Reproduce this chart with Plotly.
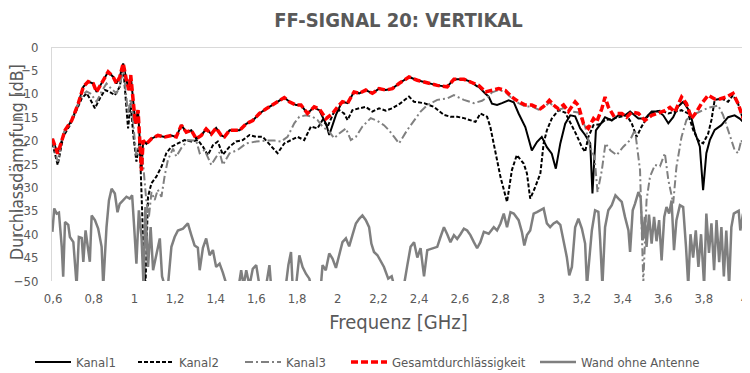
import plotly.graph_objects as go

# ---------------- data ----------------
tick_vals = [0.6, 0.8, 1.0, 1.2, 1.4, 1.6, 1.8, 2.0, 2.2, 2.4, 2.6, 2.8, 3.0, 3.2, 3.4, 3.6, 3.8, 4.0]
tick_text = ["0,6", "0,8", "1", "1,2", "1,4", "1,6", "1,8", "2", "2,2", "2,4", "2,6", "2,8", "3", "3,2", "3,4", "3,6", "3,8", "4"]
y_tick_vals = [0, -5, -10, -15, -20, -25, -30, -35, -40, -45, -50]

gesamt_f = [0.597, 0.623, 0.659, 0.692, 0.724, 0.749, 0.773, 0.798, 0.814, 0.839, 0.871, 0.896, 0.912, 0.928,
            0.945, 0.961, 0.973, 0.982, 0.994, 1.005, 1.018, 1.026, 1.035, 1.043, 1.059, 1.084, 1.116, 1.149,
            1.182, 1.206, 1.231, 1.255, 1.28, 1.304, 1.329, 1.353, 1.378, 1.402, 1.427, 1.443, 1.468, 1.517,
            1.55, 1.582, 1.615, 1.648, 1.68, 1.713, 1.737, 1.762, 1.795, 1.819, 1.851, 1.884, 1.909, 1.942,
            1.974, 1.999, 2.023, 2.048, 2.08, 2.105, 2.138, 2.17, 2.203, 2.236, 2.268, 2.301, 2.35, 2.391,
            2.44, 2.489, 2.538, 2.571, 2.62, 2.652, 2.693, 2.726, 2.758, 2.791, 2.824, 2.856, 2.889, 2.922,
            2.954, 2.996, 3.02, 3.04, 3.061, 3.085, 3.11, 3.134, 3.167, 3.183, 3.208, 3.232, 3.257, 3.273,
            3.298, 3.314, 3.33, 3.355, 3.371, 3.396, 3.42, 3.445, 3.478, 3.51, 3.543, 3.576, 3.608, 3.633,
            3.657, 3.69, 3.714, 3.739, 3.763, 3.788, 3.821, 3.853, 3.878, 3.91, 3.943, 3.968, 3.992, 4.0]
gesamt_db = [-19.6, -22.8, -17.8, -15.7, -12.1, -8.5, -7.4, -7.8, -9.6, -7.8, -5.3, -6.4, -7.8, -6.4,
             -3.5, -7.1, -9.2, -6.0, -10.7, -16.4, -13.5, -19.2, -26.4, -20.0, -20.7, -19.6, -18.9, -19.2,
             -18.9, -19.2, -16.7, -18.2, -17.8, -19.6, -18.9, -17.5, -18.6, -17.3, -18.9, -19.2, -17.8, -17.8,
             -16.4, -15.7, -14.2, -13.2, -12.4, -11.4, -10.8, -11.7, -12.4, -12.4, -14.2, -12.8, -13.2, -15.3,
             -14.2, -12.8, -11.7, -12.0, -9.6, -9.9, -9.2, -9.9, -8.9, -9.2, -8.9, -7.8, -6.4, -7.1,
             -7.6, -8.2, -8.5, -6.9, -6.9, -7.4, -8.2, -9.6, -9.3, -8.9, -9.3, -10.7, -11.7, -12.4,
             -12.4, -13.2, -12.4, -11.4, -12.4, -13.2, -12.4, -13.8, -11.7, -12.5, -16.4, -17.4, -15.3, -16.0,
             -13.2, -10.7, -12.8, -14.6, -14.2, -14.2, -15.0, -13.9, -14.2, -15.7, -14.6, -14.0, -13.6, -12.9,
             -13.9, -10.7, -12.1, -15.3, -13.9, -12.1, -10.3, -11.1, -11.1, -10.7, -9.9, -12.1, -15.3, -16.1]

kanal1_f = [0.597, 0.623, 0.659, 0.692, 0.724, 0.749, 0.773, 0.798, 0.814, 0.839, 0.871, 0.896, 0.912, 0.928,
            0.945, 0.961, 0.973, 0.982, 0.994, 1.005, 1.018, 1.026, 1.035, 1.043, 1.059, 1.084, 1.116, 1.149,
            1.182, 1.206, 1.231, 1.255, 1.28, 1.304, 1.329, 1.353, 1.378, 1.402, 1.427, 1.443, 1.468, 1.517,
            1.55, 1.582, 1.615, 1.648, 1.68, 1.713, 1.737, 1.762, 1.795, 1.819, 1.851, 1.884, 1.893, 1.909,
            1.925, 1.943, 1.958, 1.974, 1.991, 2.012, 2.023, 2.048, 2.08, 2.105, 2.138, 2.17, 2.203, 2.236,
            2.268, 2.301, 2.35, 2.391, 2.44, 2.489, 2.538, 2.571, 2.62, 2.652, 2.685, 2.693, 2.726, 2.742,
            2.758, 2.783, 2.807, 2.84, 2.865, 2.889, 2.922, 2.954, 2.979, 3.003, 3.028, 3.052, 3.072, 3.094,
            3.118, 3.143, 3.167, 3.192, 3.216, 3.241, 3.252, 3.269, 3.298, 3.314, 3.347, 3.38, 3.412, 3.437,
            3.478, 3.51, 3.543, 3.576, 3.6, 3.625, 3.649, 3.674, 3.698, 3.731, 3.755, 3.78, 3.796, 3.812,
            3.829, 3.853, 3.886, 3.919, 3.951, 3.976, 4.0]
kanal1_db = [-19.6, -22.8, -17.8, -15.7, -12.1, -8.5, -7.4, -7.8, -9.6, -7.8, -5.3, -6.4, -7.8, -6.4,
             -3.5, -7.1, -9.2, -6.0, -10.7, -16.4, -13.5, -19.2, -26.4, -20.0, -20.7, -19.6, -18.9, -19.2,
             -18.9, -19.2, -16.7, -18.2, -17.8, -19.6, -18.9, -17.5, -18.6, -17.3, -18.9, -19.2, -17.8, -17.8,
             -16.4, -15.7, -14.2, -13.2, -12.4, -11.4, -10.8, -11.7, -12.4, -12.4, -14.2, -12.8, -13.2, -13.5,
             -14.9, -16.5, -18.8, -16.8, -14.5, -12.5, -11.7, -12.0, -9.6, -9.9, -9.2, -9.9, -8.9, -9.2,
             -8.9, -7.8, -6.4, -7.1, -7.6, -8.2, -8.5, -6.9, -6.9, -7.4, -8.4, -8.5, -10.0, -10.6,
             -12.1, -12.4, -12.0, -11.4, -11.8, -14.2, -17.1, -22.1, -20.3, -19.2, -21.4, -22.8, -26.0, -20.6,
             -16.4, -14.6, -14.8, -17.4, -18.8, -20.6, -31.3, -17.8, -16.1, -15.0, -15.7, -14.6, -14.6, -13.8,
             -15.3, -15.3, -13.8, -13.8, -14.6, -16.3, -15.0, -12.7, -11.7, -13.8, -18.1, -21.3, -30.6, -22.7,
             -19.9, -17.7, -16.7, -15.0, -14.6, -15.3, -16.3]

kanal2_f = [0.597, 0.623, 0.65, 0.683, 0.716, 0.741, 0.765, 0.781, 0.806, 0.83, 0.855, 0.879, 0.904, 0.928,
            0.945, 0.961, 0.969, 0.982, 0.994, 1.01, 1.026, 1.043, 1.054, 1.067, 1.084, 1.108, 1.133, 1.157,
            1.182, 1.214, 1.247, 1.28, 1.312, 1.337, 1.361, 1.386, 1.41, 1.435, 1.468, 1.5, 1.533, 1.566,
            1.599, 1.631, 1.672, 1.704, 1.737, 1.77, 1.802, 1.835, 1.868, 1.9, 1.925, 1.95, 1.982, 2.007,
            2.031, 2.048, 2.072, 2.105, 2.138, 2.17, 2.203, 2.236, 2.268, 2.309, 2.35, 2.375, 2.424, 2.473,
            2.522, 2.554, 2.587, 2.62, 2.652, 2.677, 2.701, 2.734, 2.75, 2.775, 2.8, 2.832, 2.856, 2.88,
            2.914, 2.93, 2.946, 2.971, 2.996, 3.012, 3.028, 3.052, 3.085, 3.118, 3.15, 3.175, 3.2, 3.216,
            3.232, 3.257, 3.29, 3.314, 3.347, 3.38, 3.42, 3.445, 3.469, 3.494, 3.527, 3.559, 3.592, 3.625,
            3.657, 3.69, 3.722, 3.747, 3.771, 3.796, 3.821, 3.837, 3.853, 3.886, 3.919, 3.943, 3.968, 3.992, 4.0]
kanal2_db = [-20.6, -25.2, -19.2, -16.7, -13.5, -11.0, -9.9, -11.0, -13.1, -11.0, -9.2, -9.6, -10.3, -8.5,
             -4.2, -12.8, -17.4, -12.0, -18.5, -24.5, -19.9, -41.2, -52.0, -32.0, -29.1, -27.7, -25.6, -22.7,
             -21.3, -20.6, -19.9, -20.2, -19.9, -21.3, -23.1, -21.0, -20.2, -23.0, -21.3, -20.2, -19.9, -18.8,
             -19.2, -19.2, -21.3, -22.7, -20.6, -19.9, -19.2, -19.9, -17.0, -17.4, -15.6, -17.0, -13.8, -13.5,
             -14.2, -15.6, -13.5, -13.1, -12.8, -13.8, -13.1, -13.6, -13.1, -12.0, -10.6, -11.7, -12.0, -12.8,
             -14.5, -14.9, -14.9, -15.2, -15.6, -16.0, -14.2, -14.9, -17.1, -22.1, -27.8, -33.1, -26.3, -23.1,
             -24.9, -27.0, -32.4, -29.9, -27.0, -20.6, -17.8, -15.3, -13.5, -14.0, -16.7, -18.9, -21.4, -22.4,
             -19.2, -16.7, -16.5, -15.6, -15.4, -15.1, -14.6, -16.3, -19.2, -17.0, -14.6, -13.8, -13.6, -14.2,
             -13.8, -13.5, -14.2, -17.7, -19.9, -20.6, -18.5, -15.6, -11.3, -11.0, -11.7, -10.3, -12.1, -15.5, -16.5]

kanal3_f = [0.597, 0.623, 0.65, 0.683, 0.716, 0.741, 0.765, 0.786, 0.814, 0.839, 0.863, 0.888, 0.912, 0.928,
            0.945, 0.961, 0.969, 0.982, 0.994, 1.01, 1.026, 1.043, 1.059, 1.071, 1.084, 1.1, 1.115, 1.133,
            1.149, 1.165, 1.19, 1.206, 1.232, 1.263, 1.304, 1.321, 1.345, 1.378, 1.402, 1.419, 1.435, 1.468,
            1.508, 1.55, 1.599, 1.648, 1.688, 1.721, 1.753, 1.786, 1.811, 1.844, 1.876, 1.9, 1.925, 1.958,
            1.982, 2.007, 2.04, 2.064, 2.089, 2.121, 2.162, 2.195, 2.227, 2.252, 2.277, 2.301, 2.342, 2.375,
            2.407, 2.44, 2.489, 2.538, 2.571, 2.62, 2.669, 2.709, 2.742, 2.758, 2.791, 2.824, 2.856, 2.889,
            2.922, 2.954, 2.987, 3.02, 3.04, 3.061, 3.085, 3.118, 3.15, 3.183, 3.216, 3.241, 3.262, 3.277,
            3.298, 3.316, 3.341, 3.371, 3.404, 3.437, 3.461, 3.486, 3.502, 3.518, 3.535, 3.559, 3.584, 3.608,
            3.625, 3.649, 3.665, 3.69, 3.714, 3.739, 3.771, 3.821, 3.87, 3.894, 3.919, 3.951, 3.968, 3.984, 4.0]
kanal3_db = [-20.0, -24.5, -18.5, -16.5, -13.0, -10.5, -9.5, -10.0, -11.7, -9.5, -7.8, -9.0, -9.9, -8.5,
             -4.2, -10.5, -14.2, -11.0, -16.0, -23.4, -21.0, -25.0, -33.0, -36.5, -31.0, -32.7, -30.5, -32.0,
             -27.5, -24.1, -21.7, -23.4, -21.5, -19.9, -20.0, -22.7, -22.0, -25.2, -23.5, -22.5, -25.2, -22.7,
             -22.0, -20.6, -20.2, -20.0, -20.0, -20.2, -19.2, -16.3, -14.9, -14.6, -14.9, -15.6, -17.0, -18.1,
             -19.5, -18.5, -17.4, -19.9, -19.2, -17.0, -15.2, -15.8, -16.7, -17.8, -19.2, -20.6, -17.7, -15.6,
             -13.8, -12.4, -11.3, -11.0, -10.3, -11.3, -12.0, -11.5, -10.5, -9.7, -9.2, -9.6, -11.0, -12.0,
             -12.7, -12.7, -13.4, -12.7, -11.8, -12.7, -13.4, -13.0, -13.8, -14.0, -17.0, -21.4, -23.5, -31.0,
             -26.4, -20.6, -22.1, -23.1, -21.3, -19.9, -17.7, -26.3, -50.5, -32.7, -27.7, -25.2, -25.5, -22.7,
             -28.4, -33.4, -25.6, -19.2, -15.6, -14.5, -14.0, -13.0, -12.5, -14.5, -17.7, -22.0, -22.7, -19.9, -22.0]

wand_f = [0.597, 0.606, 0.618, 0.629, 0.643, 0.65, 0.659, 0.675, 0.683, 0.7, 0.716, 0.727, 0.741, 0.749,
          0.76, 0.773, 0.781, 0.79, 0.806, 0.822, 0.839, 0.847, 0.863, 0.875, 0.888, 0.904, 0.917, 0.928,
          0.945, 0.961, 0.977, 0.989, 0.999, 1.01, 1.022, 1.035, 1.045, 1.054, 1.067, 1.08, 1.092, 1.108,
          1.125, 1.136, 1.149, 1.165, 1.182, 1.198, 1.214, 1.239, 1.263, 1.28, 1.296, 1.312, 1.321, 1.337,
          1.353, 1.37, 1.386, 1.402, 1.419, 1.435, 1.451, 1.477, 1.506, 1.525, 1.537, 1.55, 1.566, 1.582,
          1.599, 1.615, 1.64, 1.664, 1.672, 1.703, 1.733, 1.746, 1.757, 1.77, 1.778, 1.795, 1.811, 1.827,
          1.844, 1.86, 1.868, 1.889, 1.917, 1.925, 1.941, 1.958, 1.974, 1.991, 2.007, 2.023, 2.04, 2.056,
          2.072, 2.089, 2.105, 2.121, 2.138, 2.154, 2.165, 2.178, 2.195, 2.211, 2.227, 2.248, 2.265, 2.277,
          2.293, 2.306, 2.325, 2.342, 2.358, 2.375, 2.391, 2.407, 2.424, 2.44, 2.464, 2.489, 2.505, 2.522,
          2.538, 2.554, 2.571, 2.587, 2.603, 2.62, 2.636, 2.652, 2.669, 2.685, 2.701, 2.718, 2.742, 2.767,
          2.783, 2.8, 2.816, 2.832, 2.849, 2.865, 2.889, 2.905, 2.917, 2.93, 2.946, 2.963, 2.979, 2.996,
          3.012, 3.028, 3.044, 3.061, 3.077, 3.094, 3.11, 3.126, 3.138, 3.151, 3.167, 3.183, 3.2, 3.216,
          3.225, 3.238, 3.249, 3.265, 3.281, 3.29, 3.301, 3.314, 3.33, 3.347, 3.365, 3.38, 3.396, 3.412,
          3.429, 3.437, 3.45, 3.461, 3.478, 3.489, 3.499, 3.51, 3.518, 3.53, 3.543, 3.555, 3.567, 3.58,
          3.592, 3.605, 3.616, 3.629, 3.641, 3.653, 3.665, 3.682, 3.698, 3.712, 3.723, 3.734, 3.747, 3.76,
          3.773, 3.786, 3.801, 3.812, 3.825, 3.837, 3.85, 3.862, 3.875, 3.886, 3.898, 3.91, 3.924, 3.935,
          3.947, 3.959, 3.971, 3.979, 3.992, 4.0]
wand_db = [-39.5, -34.5, -35.6, -35.4, -42.7, -49.1, -37.4, -38.0, -40.6, -41.7, -51.0, -40.6, -40.8, -45.9,
           -39.2, -44.1, -45.9, -36.0, -37.0, -38.8, -42.7, -51.0, -38.5, -32.8, -30.3, -31.3, -35.3, -33.5,
           -32.8, -32.0, -32.4, -31.7, -38.5, -46.3, -34.9, -40.6, -51.0, -34.2, -47.0, -38.5, -47.7, -44.5,
           -40.9, -49.0, -51.0, -51.0, -42.7, -40.6, -39.2, -38.8, -37.7, -40.2, -42.4, -42.9, -47.7, -42.9,
           -40.9, -44.5, -43.4, -47.0, -46.3, -48.2, -50.5, -53.0, -53.0, -47.7, -51.0, -47.7, -51.0, -47.4,
           -46.6, -51.0, -53.0, -46.6, -51.0, -53.0, -53.0, -50.5, -46.6, -43.8, -51.0, -51.0, -44.5, -47.0,
           -48.5, -49.5, -51.0, -53.0, -51.0, -46.6, -47.7, -44.1, -45.2, -47.2, -44.5, -41.7, -40.9, -42.6,
           -40.2, -37.7, -36.7, -36.0, -37.0, -38.5, -42.0, -43.8, -44.5, -45.6, -47.0, -49.5, -49.0, -51.0,
           -50.5, -53.0, -51.0, -46.6, -42.7, -41.7, -45.0, -43.0, -49.0, -43.4, -43.0, -42.7, -40.6, -38.5,
           -40.0, -41.7, -40.2, -41.0, -40.0, -38.8, -39.2, -40.2, -41.7, -43.0, -41.7, -39.5, -39.9, -38.5,
           -39.2, -37.7, -35.6, -38.5, -35.3, -35.6, -37.0, -39.5, -42.4, -40.2, -39.2, -35.6, -35.3, -34.9,
           -34.5, -37.7, -38.5, -37.7, -37.3, -38.0, -41.7, -44.9, -48.8, -47.0, -38.5, -36.7, -38.8, -42.0,
           -51.0, -45.2, -39.2, -34.9, -35.2, -41.3, -51.0, -38.5, -34.9, -33.8, -31.7, -32.4, -33.1, -36.3,
           -39.2, -43.8, -34.9, -33.5, -31.0, -32.2, -41.3, -36.3, -42.7, -35.8, -42.0, -36.3, -41.5, -37.0,
           -45.6, -36.3, -34.2, -35.6, -32.8, -43.4, -37.0, -33.8, -34.2, -42.7, -51.0, -40.0, -45.0, -39.2,
           -47.0, -40.0, -51.0, -35.6, -44.0, -37.7, -47.7, -37.0, -46.0, -38.5, -49.0, -39.2, -51.0, -38.5,
           -35.6, -35.3, -35.0, -39.2, -35.6, -49.0]

series_names = ["Kanal1", "Kanal2", "Kanal3", "Gesamtdurchlässigkeit", "Wand ohne Antenne"]

# ---------------- figure ----------------
# The page body has an 8 px default margin, so the figure is sized 8 px smaller
# and every pixel position below is (page position - 8).
FONT = "Liberation Sans Narrow, DejaVu Sans Condensed, Arial Narrow, sans-serif"
TXT = "#595959"
OFF = 8
W, H = 750 - OFF, 373 - OFF
ML, MR, MT, MB = 52 - OFF, 5, 47 - OFF, 92
PLOT_W = W - ML - MR
PLOT_H = H - MT - MB

fig = go.Figure()
fig.add_trace(go.Scatter(x=kanal1_f, y=kanal1_db, name=series_names[0], mode="lines", legend="legend",
                         line=dict(color="#000000", width=2)))
fig.add_trace(go.Scatter(x=kanal2_f, y=kanal2_db, name=series_names[1], mode="lines", legend="legend2",
                         line=dict(color="#000000", width=2, dash="4px,2px")))
fig.add_trace(go.Scatter(x=kanal3_f, y=kanal3_db, name=series_names[2], mode="lines", legend="legend3",
                         line=dict(color="#808080", width=2, dash="8px,3px,2px,3px")))
fig.add_trace(go.Scatter(x=gesamt_f, y=gesamt_db, name=series_names[3], mode="lines", legend="legend4",
                         line=dict(color="#ff0000", width=3.5, dash="7px,3px")))
fig.add_trace(go.Scatter(x=wand_f, y=wand_db, name=series_names[4], mode="lines", legend="legend5",
                         line=dict(color="#7f7f7f", width=2.5)))

# one legend box per entry, so each entry sits where the reference puts it
legend_text_start = [77, 180, 287, 393, 582]          # page x of each legend label
leg_common = dict(orientation="h", xref="container", yref="container", xanchor="left", yanchor="top",
                  y=1 - (347 - OFF) / H, font=dict(family=FONT, size=13, color=TXT), itemwidth=36,
                  bgcolor="rgba(0,0,0,0)")
legends = {}
for i, px in enumerate(legend_text_start):
    key = "legend" if i == 0 else f"legend{i + 1}"
    legends[key] = dict(leg_common, x=(px - OFF - 47) / W)

fig.update_layout(
    width=W, height=H,
    margin=dict(l=ML, r=MR, t=MT, b=MB, autoexpand=False),
    paper_bgcolor="white", plot_bgcolor="white",
    font=dict(family=FONT, color=TXT, size=13),
    title=dict(text="<b>FF-SIGNAL 20: VERTIKAL</b>", x=0.5, xref="paper", xanchor="center",
               y=1 - (20 - OFF) / H, yref="container", yanchor="middle",
               font=dict(family=FONT, size=20, color=TXT)),
    showlegend=True,
    annotations=[dict(text="Durchlassdämpfung [dB]", textangle=-90, showarrow=False,
                      xref="paper", yref="paper", x=(17 - 52) / PLOT_W, y=(281 - 162) / PLOT_H,
                      xanchor="center", yanchor="middle", font=dict(family=FONT, size=17.5, color=TXT))],
    **legends,
)
fig.update_xaxes(range=[0.595, 4.002], tickvals=tick_vals, ticktext=tick_text, showgrid=False,
                 zeroline=False, showline=False, ticks="", ticklabelstandoff=8, automargin=False,
                 tickfont=dict(size=13, color=TXT),
                 title=dict(text="Frequenz [GHz]", font=dict(size=20, color=TXT), standoff=9))
fig.update_yaxes(range=[-50, 0], tickvals=y_tick_vals, showgrid=False, zeroline=True,
                 zerolinecolor="#d9d9d9", zerolinewidth=1, showline=True, linecolor="#d9d9d9",
                 linewidth=1, ticks="", ticklabelstandoff=10, automargin=False,
                 tickfont=dict(size=13, color=TXT))

fig.write_html("out.html")
